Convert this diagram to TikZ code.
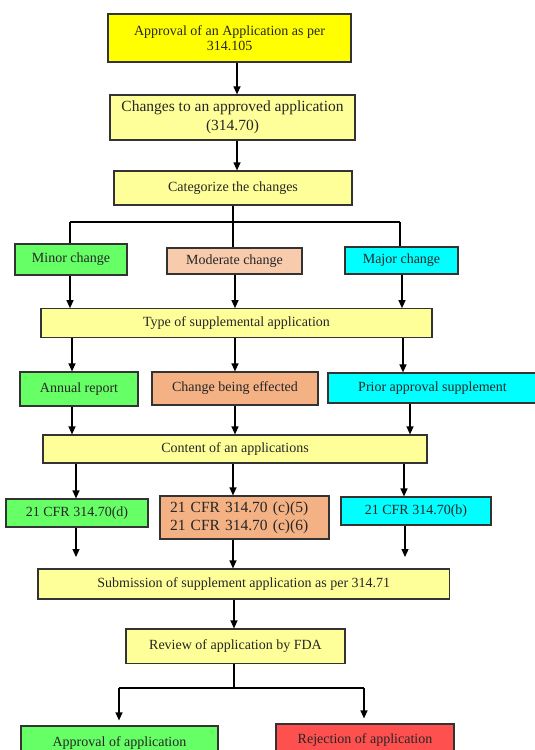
\documentclass[tikz,border=0pt]{standalone}
\usepackage{fontspec}
\setmainfont{Liberation Serif}
\usetikzlibrary{arrows.meta}
\definecolor{ybright}{HTML}{FFFF00}
\definecolor{ylight}{HTML}{FFFF99}
\definecolor{gr}{HTML}{66FF66}
\definecolor{peachL}{HTML}{F8CBAD}
\definecolor{peachD}{HTML}{F4B183}
\definecolor{cy}{HTML}{00FFFF}
\definecolor{rd}{HTML}{FF5050}
\definecolor{edge}{HTML}{333333}
\begin{document}
\begin{tikzpicture}[x=1pt,y=-1pt,
  box/.style={draw=edge, line width=1.2pt, inner sep=2pt, text=black!85,
    font=\fontsize{14}{16}\selectfont, align=center},
  arr/.style={line width=1.2pt, -{Triangle[length=8pt,width=7pt]}},
  ln/.style={line width=1.2pt}]
\clip (0,0) rectangle (535,750);
\fill[white] (0,0) rectangle (535,750);
% nodes
\node[box, fill=ybright, minimum width=243pt, minimum height=48pt,
  font=\fontsize{14}{15.5}\selectfont] (top) at (229.5,38) {Approval of an Application as per\\314.105};
\node[box, fill=ylight, minimum width=245pt, minimum height=45pt,
  font=\fontsize{15.5}{19}\selectfont] (changes) at (232.5,117.5) {Changes to an approved application\\(314.70)};
\node[box, fill=ylight, minimum width=238pt, minimum height=34pt] (categ) at (233,188) {Categorize the changes};
\node[box, fill=gr, minimum width=112pt, minimum height=31pt] (minor) at (71,259.5) {Minor change};
\node[box, fill=peachL, minimum width=135pt, minimum height=26pt] (moderate) at (234.5,261) {Moderate change};
\node[box, fill=cy, minimum width=113pt, minimum height=27pt] (major) at (401.5,260.5) {Major change};
\node[box, fill=ylight, minimum width=391pt, minimum height=28.5pt] (type) at (236.5,323) {Type of supplemental application};
\node[box, fill=gr, minimum width=118pt, minimum height=34pt] (annual) at (79,389) {Annual report};
\node[box, fill=peachD, minimum width=166pt, minimum height=33pt] (cbe) at (235,388.5) {Change being effected};
\node[box, fill=cy, minimum width=209pt, minimum height=30pt] (prior) at (432.5,388) {Prior approval supplement};
\node[box, fill=ylight, minimum width=384pt, minimum height=28pt] (content) at (235,449) {Content of an applications};
\node[box, fill=gr, minimum width=142pt, minimum height=28pt] (cfrd) at (77,513) {21 CFR 314.70(d)};
\node[box, fill=peachD, minimum height=43pt, inner xsep=10pt, text width=149pt,
  align=left, font=\fontsize{15.5}{18}\selectfont] (cfrc) at (244.5,517.5) {21 CFR 314.70 (c)(5)\\21 CFR 314.70 (c)(6)};
\node[box, fill=cy, minimum width=150pt, minimum height=28pt] (cfrb) at (416,511) {21 CFR 314.70(b)};
\node[box, fill=ylight, minimum width=411.5pt, minimum height=30pt] (subm) at (243.75,584) {Submission of supplement application as per 314.71};
\node[box, fill=ylight, minimum width=219pt, minimum height=34.5pt] (review) at (235.5,646.25) {Review of application by FDA};
\node[box, fill=gr, minimum width=197pt, minimum height=34pt] (approval) at (119.5,743) {Approval of application};
\node[box, fill=rd, minimum width=178pt, minimum height=32pt] (reject) at (365,740) {Rejection of application};
% column coordinates
\coordinate (xa) at (237,0);
\coordinate (s1) at (233,222);
\coordinate (s1L) at (70,222);
\coordinate (s1R) at (400,222);
\coordinate (r2a) at (70,0);
\coordinate (r2b) at (235,0);
\coordinate (r2c) at (402,0);
\coordinate (r3a) at (72,0);
\coordinate (r3b) at (235,0);
\coordinate (r3c) at (403,0);
\coordinate (r4a) at (72,0);
\coordinate (r4b) at (235,0);
\coordinate (r4c) at (410,0);
\coordinate (r5a) at (76,0);
\coordinate (r5b) at (233,0);
\coordinate (r5c) at (404,0);
\coordinate (e1) at (76,557);
\coordinate (e2) at (405,557);
\coordinate (r6) at (234,0);
\coordinate (s2) at (234,688);
\coordinate (s2L) at (119,688);
\coordinate (s2R) at (364,688);
% connectors
\draw[arr] (top.south -| xa) -- (changes.north -| xa);
\draw[arr] (changes.south -| xa) -- (categ.north -| xa);
\draw[ln] (categ.south -| s1) -- (s1);
\draw[ln] (s1L) -- (s1R);
\draw[ln] (s1L) -- (minor.north -| s1L);
\draw[ln] (s1) -- (moderate.north -| s1);
\draw[ln] (s1R) -- (major.north -| s1R);
\draw[arr] (minor.south -| r2a) -- (type.north -| r2a);
\draw[arr] (moderate.south -| r2b) -- (type.north -| r2b);
\draw[arr] (major.south -| r2c) -- (type.north -| r2c);
\draw[arr] (type.south -| r3a) -- (annual.north -| r3a);
\draw[arr] (type.south -| r3b) -- (cbe.north -| r3b);
\draw[arr] (type.south -| r3c) -- (prior.north -| r3c);
\draw[arr] (annual.south -| r4a) -- (content.north -| r4a);
\draw[arr] (cbe.south -| r4b) -- (content.north -| r4b);
\draw[arr] (prior.south -| r4c) -- (content.north -| r4c);
\draw[arr] (content.south -| r5a) -- (cfrd.north -| r5a);
\draw[arr] (content.south -| r5b) -- (cfrc.north -| r5b);
\draw[arr] (content.south -| r5c) -- (cfrb.north -| r5c);
\draw[arr] (cfrd.south -| e1) -- (e1);
\draw[arr] (cfrc.south -| r5b) -- (subm.north -| r5b);
\draw[arr] (cfrb.south -| e2) -- (e2);
\draw[arr] (subm.south -| r6) -- (review.north -| r6);
\draw[ln] (review.south -| s2) -- (s2);
\draw[ln] (s2L) -- (s2R);
\draw[arr, shorten >=5pt] (s2L) -- (approval.north -| s2L);
\draw[arr, shorten >=5pt] (s2R) -- (reject.north -| s2R);
\end{tikzpicture}
\end{document}
